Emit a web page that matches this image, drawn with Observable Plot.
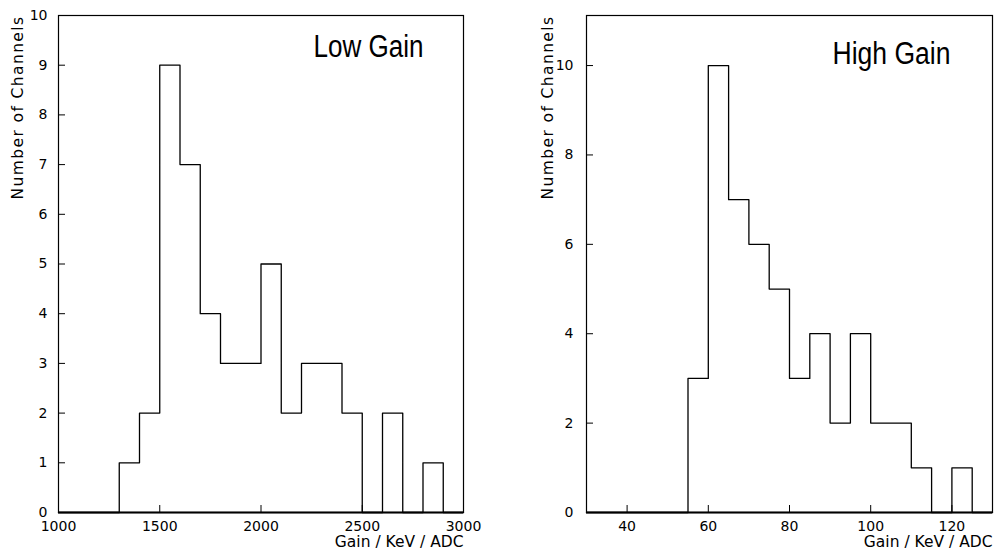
<!DOCTYPE html>
<html>
<head>
<meta charset="utf-8">
<script src="https://cdn.jsdelivr.net/npm/d3@7"></script>
<script src="https://cdn.jsdelivr.net/npm/@observablehq/plot@0.6"></script>
<style>
  body { margin: 0; background: #fff; }
  #wrap { display: flex; width: 996px; height: 557px; overflow: hidden; }
  #wrap svg { display: block; flex: none; }
</style>
</head>
<body>
<div id="wrap"></div>
<script>
// ---- Low gain histogram (bin lower edges, bin width 100) ----
const lowBinStarts = [1000, 1100, 1200, 1300, 1400, 1500, 1600, 1700, 1800, 1900,
                      2000, 2100, 2200, 2300, 2400, 2500, 2600, 2700, 2800, 2900];
const lowCounts    = [0, 0, 0, 1, 2, 9, 7, 4, 3, 3,
                      5, 2, 3, 3, 2, 0, 2, 0, 1, 0];
const lowXDomain   = [1000, 3000];
const lowYDomain   = [0, 10];
const lowXTicks    = [1000, 1500, 2000, 2500, 3000];
const lowYTicks    = [0, 1, 2, 3, 4, 5, 6, 7, 8, 9, 10];

// ---- High gain histogram (bin lower edges, bin width 5) ----
const highBinStarts = [30, 35, 40, 45, 50, 55, 60, 65, 70, 75,
                       80, 85, 90, 95, 100, 105, 110, 115, 120, 125];
const highCounts    = [0, 0, 0, 0, 0, 3, 10, 7, 6, 5,
                       3, 4, 2, 4, 2, 2, 1, 0, 1, 0];
const highXDomain   = [30, 130];
const highYDomain   = [0, 11.12];
const highXTicks    = [40, 60, 80, 100, 120];
const highYTicks    = [0, 2, 4, 6, 8, 10];

// ---- Texts ----
const yLabelText = "Number of Channels";
const xLabelText = "Gain / KeV / ADC";
const lowTitle   = "Low Gain";
const highTitle  = "High Gain";

function panel(o) {
  const pts = o.starts.map((x, i) => ({x, y: o.counts[i]}));
  pts.push({x: o.xDomain[1], y: o.counts[o.counts.length - 1]});
  const fmt = d3.format("d");
  const svg = Plot.plot({
    width: o.width,
    height: 557,
    marginLeft: o.ml,
    marginRight: o.mr,
    marginTop: 15,
    marginBottom: 45,
    x: {domain: o.xDomain},
    y: {domain: o.yDomain},
    style: {fontFamily: "'DejaVu Sans', sans-serif", fontSize: "14px", color: "#000", background: "#fff", overflow: "visible"},
    marks: [
      Plot.frame({stroke: "#000", strokeWidth: 1.2}),
      Plot.ruleY([0], {stroke: "#000", strokeWidth: 2}),
      Plot.axisX({ticks: o.xTicks, tickSize: -7, tickPadding: 16, tickFormat: fmt, label: null, stroke: "#000", fill: "#000", fontSize: 14}),
      Plot.axisY({ticks: o.yTicks, tickSize: -7, tickPadding: o.ytp, tickFormat: fmt, label: null, stroke: "#000", fill: "#000", fontSize: 14}),
      Plot.line(pts, {x: "x", y: "y", curve: "step-after", stroke: "#000", strokeWidth: 1.3}),
      Plot.text([yLabelText], {text: d => d, frameAnchor: "top-left", rotate: -90, textAnchor: "end", lineAnchor: "middle", dx: o.ylDx, fontSize: 15.5, fill: "#000"}),
      Plot.text([xLabelText], {text: d => d, frameAnchor: "bottom-right", textAnchor: "end", lineAnchor: "bottom", dy: 34, fontSize: 15.5, fill: "#000"}),
      Plot.text([o.title], {text: d => d, frameAnchor: "top-left", textAnchor: "start", lineAnchor: "bottom", dx: o.tDx, dy: o.tDy, fontSize: 31, fontFamily: "Liberation Sans, Arial, sans-serif", fill: "#000"})
    ]
  });
  svg.querySelectorAll("text").forEach(t => {
    const s = t.textContent;
    if (s === yLabelText) t.style.letterSpacing = "1.4px";
    if (s === o.title) {
      // condense the panel title to the reference's narrow face
      t.setAttribute("textLength", o.tLen);
      t.setAttribute("lengthAdjust", "spacingAndGlyphs");
    }
  });
  return svg;
}

const wrap = document.getElementById("wrap");
wrap.appendChild(panel({
  starts: lowBinStarts, counts: lowCounts, xDomain: lowXDomain, yDomain: lowYDomain,
  xTicks: lowXTicks, yTicks: lowYTicks, width: 498, ml: 58, mr: 35, ytp: 18,
  ylDx: -40, title: lowTitle, tDx: 255, tDy: 41, tLen: 110
}));
wrap.appendChild(panel({
  starts: highBinStarts, counts: highCounts, xDomain: highXDomain, yDomain: highYDomain,
  xTicks: highXTicks, yTicks: highYTicks, width: 498, ml: 88, mr: 4, ytp: 20,
  ylDx: -38, title: highTitle, tDx: 246, tDy: 48, tLen: 118
}));
</script>
</body>
</html>
